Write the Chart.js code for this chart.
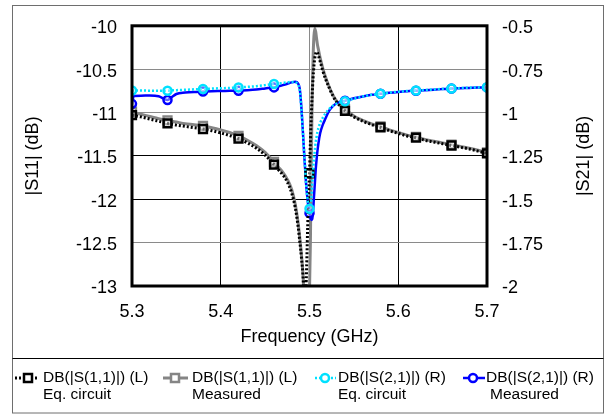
<!DOCTYPE html>
<html>
<head>
<meta charset="utf-8">
<script src="https://cdn.jsdelivr.net/npm/chart.js@4.4.1/dist/chart.umd.min.js"></script>
<style>
  body { margin: 0; background: #fff; }
  #chart { position: absolute; left: 0; top: 0; }
</style>
</head>
<body>
<canvas id="chart" width="608" height="415"></canvas>
<script>
// frequency points (GHz), shared by all four traces
const freq = [
  5.300, 5.302, 5.310, 5.320, 5.330, 5.340, 5.345, 5.350, 5.360, 5.370,
  5.380, 5.390, 5.400, 5.410, 5.420, 5.430, 5.440, 5.450, 5.460, 5.465,
  5.470, 5.475, 5.480, 5.484, 5.487, 5.489, 5.491, 5.493, 5.494, 5.495,
  5.496, 5.497, 5.498, 5.499, 5.500, 5.501, 5.502, 5.503, 5.504, 5.505,
  5.506, 5.507, 5.508, 5.509, 5.510, 5.512, 5.515, 5.518, 5.522, 5.526,
  5.530, 5.535, 5.540, 5.550, 5.560, 5.570, 5.580, 5.590, 5.600, 5.610,
  5.620, 5.630, 5.640, 5.650, 5.660, 5.670, 5.680, 5.690, 5.700
];

// |S11| dB, equivalent circuit
const s11Eq = [
  -11.03, -11.035, -11.05, -11.075, -11.10, -11.125, -11.135, -11.145, -11.16, -11.175,
  -11.19, -11.21, -11.235, -11.265, -11.30, -11.35, -11.41, -11.49, -11.60, -11.66,
  -11.72, -11.80, -11.93, -12.10, -12.30, -12.48, -12.68, -12.95, -13.3, -13.8,
  -13.1, -12.7, -12.3, -11.98, -11.70, -11.35, -11.05, -10.80, -10.60, -10.46,
  -10.37, -10.32, -10.30, -10.31, -10.34, -10.41, -10.52, -10.61, -10.71, -10.80,
  -10.87, -10.93, -10.98, -11.05, -11.10, -11.14, -11.17, -11.21, -11.24, -11.27,
  -11.29, -11.32, -11.34, -11.36, -11.38, -11.40, -11.42, -11.445, -11.47
];

// |S11| dB, measured
const s11Meas = [
  -10.99, -11.0, -11.02, -11.045, -11.07, -11.09, -11.10, -11.11, -11.13, -11.14,
  -11.155, -11.175, -11.20, -11.23, -11.27, -11.32, -11.38, -11.46, -11.57, -11.63,
  -11.69, -11.77, -11.89, -12.06, -12.26, -12.44, -12.65, -12.93, -13.2, -13.6,
  -14.2, -14.6, -14.6, -14.0, -13.05, -12.5, -11.6, -10.85, -10.38, -10.12,
  -10.03, -10.07, -10.15, -10.22, -10.27, -10.37, -10.49, -10.59, -10.70, -10.79,
  -10.86, -10.92, -10.96, -11.04, -11.09, -11.13, -11.16, -11.20, -11.23, -11.26,
  -11.28, -11.31, -11.33, -11.35, -11.37, -11.39, -11.41, -11.435, -11.46
];

// |S21| dB, equivalent circuit
const s21Eq = [
  -0.873, -0.873, -0.873, -0.874, -0.875, -0.874, -0.872, -0.871, -0.869, -0.866,
  -0.864, -0.862, -0.860, -0.858, -0.855, -0.852, -0.848, -0.842, -0.835, -0.832,
  -0.829, -0.826, -0.824, -0.826, -0.840, -0.870, -0.99, -1.15, -1.23, -1.31,
  -1.40, -1.46, -1.51, -1.54, -1.555, -1.55, -1.50, -1.42, -1.34, -1.27,
  -1.22, -1.17, -1.14, -1.11, -1.09, -1.06, -1.03, -1.005, -0.98, -0.962,
  -0.95, -0.94, -0.935, -0.92, -0.908, -0.898, -0.891, -0.885, -0.880, -0.876,
  -0.873, -0.870, -0.867, -0.864, -0.861, -0.859, -0.857, -0.855, -0.854
];

// |S21| dB, measured
const s21Meas = [
  -0.95, -0.905, -0.903, -0.902, -0.906, -0.928, -0.910, -0.893, -0.885, -0.881,
  -0.879, -0.877, -0.876, -0.875, -0.874, -0.871, -0.867, -0.861, -0.855, -0.849,
  -0.842, -0.834, -0.826, -0.823, -0.832, -0.862, -0.98, -1.15, -1.24, -1.32,
  -1.40, -1.46, -1.51, -1.55, -1.58, -1.605, -1.62, -1.615, -1.57, -1.49,
  -1.41, -1.33, -1.27, -1.22, -1.18, -1.12, -1.07, -1.035, -0.99, -0.965,
  -0.948, -0.937, -0.932, -0.918, -0.907, -0.898, -0.892, -0.886, -0.881, -0.877,
  -0.874, -0.871, -0.868, -0.865, -0.862, -0.860, -0.858, -0.856, -0.855
];

// frequencies that carry a marker
const markerFreqs = [5.30, 5.34, 5.38, 5.42, 5.46, 5.50, 5.54, 5.58, 5.62, 5.66, 5.70];

const xTicks = [5.3, 5.4, 5.5, 5.6, 5.7];
const xTickLabels = ['5.3', '5.4', '5.5', '5.6', '5.7'];
const yLeftTicks = [-13, -12.5, -12, -11.5, -11, -10.5, -10];
const yLeftTickLabels = ['-13', '-12.5', '-12', '-11.5', '-11', '-10.5', '-10'];
const yRightTicks = [-2, -1.75, -1.5, -1.25, -1, -0.75, -0.5];
const yRightTickLabels = ['-2', '-1.75', '-1.5', '-1.25', '-1', '-0.75', '-0.5'];

const legendLine1 = ['DB(|S(1,1)|) (L)', 'DB(|S(1,1)|) (L)', 'DB(|S(2,1)|) (R)', 'DB(|S(2,1)|) (R)'];
const legendLine2 = ['Eq. circuit', 'Measured', 'Eq. circuit', 'Measured'];

const FONT = "'Liberation Sans', Arial, sans-serif";
const CYAN = '#00e1ff';
const BLUE = '#0000ff';
const GRAY = '#858585';

const pts = vals => freq.map((f, i) => ({ x: f, y: vals[i] }));
const markR = r => ctx => markerFreqs.includes(freq[ctx.dataIndex]) ? r : 0;

// gridlines that come out grey (anti-aliased) in the original
const grayGrid = [5.5, -10.5, -11, -12.5];

const frame = {
  id: 'frame',
  beforeDraw(chart) {
    const c = chart.ctx;
    c.save();
    c.fillStyle = '#fff';
    c.fillRect(0, 0, chart.width, chart.height);
    c.strokeStyle = '#6e6e6e';
    c.lineWidth = 1;
    c.strokeRect(12.5, 5.5, 591, 407.5);
    c.strokeStyle = '#000';
    c.beginPath();
    c.moveTo(12.5, 358.5);
    c.lineTo(603.5, 358.5);
    c.stroke();
    c.restore();
  },
  afterDatasetsDraw(chart) {
    const c = chart.ctx, a = chart.chartArea;
    c.save();
    c.strokeStyle = '#000';
    c.lineWidth = 3;
    c.strokeRect(a.left, a.top, a.right - a.left, a.bottom - a.top);
    c.restore();
  },
  afterDraw(chart) {
    const c = chart.ctx, a = chart.chartArea;
    const midY = (a.top + a.bottom) / 2;
    c.save();
    c.fillStyle = '#000';
    c.font = '18px ' + FONT;
    c.textAlign = 'center';
    c.textBaseline = 'middle';
    c.save();
    c.translate(33, midY);
    c.rotate(-Math.PI / 2);
    c.fillText('|S11| (dB)', 0, 0);
    c.restore();
    c.save();
    c.translate(584, midY);
    c.rotate(-Math.PI / 2);
    c.fillText('|S21| (dB)', 0, 0);
    c.restore();

    // legend
    const ds = chart.data.datasets;
    const order = [1, 3, 0, 2];
    const lineX = [[15, 38], [163, 188], [315, 336], [463, 485]];
    const markX = [28, 175, 325, 473];
    const textX = [43, 192, 338, 486];
    const text2X = [43, 192, 338, 490];
    const y1 = 378, y2 = 395;
    c.font = '15.5px ' + FONT;
    c.textAlign = 'left';
    for (let k = 0; k < 4; k++) {
      const d = ds[order[k]];
      c.strokeStyle = d.borderColor;
      c.lineWidth = d.borderWidth;
      c.setLineDash(d.borderDash || []);
      c.beginPath();
      c.moveTo(lineX[k][0], y1);
      c.lineTo(lineX[k][1], y1);
      c.stroke();
      c.setLineDash([]);
      c.lineWidth = 2.5;
      c.fillStyle = '#fff';
      c.beginPath();
      if (d.pointStyle === 'rect') {
        c.rect(markX[k] - 4, y1 - 4, 8, 8);
      } else {
        c.arc(markX[k], y1, 4, 0, Math.PI * 2);
      }
      c.fill();
      c.stroke();
      c.fillStyle = '#000';
      c.fillText(legendLine1[k], textX[k], y1);
      c.fillText(legendLine2[k], text2X[k], y2);
    }
    c.restore();
  }
};

const tickFont = { family: FONT, size: 18 };

new Chart(document.getElementById('chart'), {
  type: 'line',
  data: {
    datasets: [
      {
        label: 'DB(|S(2,1)|) (R) Eq. circuit', data: pts(s21Eq), yAxisID: 'yR',
        borderColor: CYAN, borderWidth: 2.5, borderDash: [2, 2],
        pointStyle: 'circle', pointRadius: markR(4), pointBorderWidth: 2.5,
        pointBorderColor: CYAN, pointBackgroundColor: 'rgba(255,255,255,0.4)'
      },
      {
        label: 'DB(|S(1,1)|) (L) Eq. circuit', data: pts(s11Eq), yAxisID: 'yL',
        borderColor: '#000', borderWidth: 3, borderDash: [2, 2],
        pointStyle: 'rect', pointRadius: markR(5.5), pointBorderWidth: 2.5,
        pointBorderColor: '#000', pointBackgroundColor: 'rgba(255,255,255,0.4)'
      },
      {
        label: 'DB(|S(2,1)|) (R) Measured', data: pts(s21Meas), yAxisID: 'yR',
        borderColor: BLUE, borderWidth: 2.5,
        pointStyle: 'circle', pointRadius: markR(4), pointBorderWidth: 2.5,
        pointBorderColor: BLUE, pointBackgroundColor: 'rgba(255,255,255,0.4)'
      },
      {
        label: 'DB(|S(1,1)|) (L) Measured', data: pts(s11Meas), yAxisID: 'yL',
        borderColor: GRAY, borderWidth: 3,
        pointStyle: 'rect', pointRadius: markR(5.5), pointBorderWidth: 2.5,
        pointBorderColor: GRAY, pointBackgroundColor: 'rgba(255,255,255,0.4)'
      }
    ]
  },
  options: {
    responsive: false,
    animation: false,
    devicePixelRatio: 1,
    cubicInterpolationMode: 'monotone',
    layout: { padding: { top: 23, left: 0, right: 0, bottom: 0 } },
    plugins: { legend: { display: false }, tooltip: { enabled: false } },
    scales: {
      x: {
        type: 'linear', min: 5.3, max: 5.7,
        afterBuildTicks: s => { s.ticks = xTicks.map(v => ({ value: v })); },
        afterFit: s => { s.height = 129; },
        border: { display: false },
        grid: {
          drawTicks: false, tickLength: 0, lineWidth: 1,
          color: ctx => grayGrid.includes(ctx.tick && ctx.tick.value) ? '#8a8a8a' : '#000'
        },
        ticks: { padding: 15, color: '#000', font: tickFont, maxRotation: 0, callback: (v, i) => xTickLabels[i] },
        title: { display: true, text: 'Frequency (GHz)', color: '#000', font: tickFont, padding: { top: 0, bottom: 67 } }
      },
      yL: {
        type: 'linear', position: 'left', min: -13, max: -10,
        afterBuildTicks: s => { s.ticks = yLeftTicks.map(v => ({ value: v })); },
        afterFit: s => { s.width = 132; },
        border: { display: false },
        grid: {
          drawTicks: false, tickLength: 0, lineWidth: 1,
          color: ctx => grayGrid.includes(ctx.tick && ctx.tick.value) ? '#8a8a8a' : '#000'
        },
        ticks: { padding: 15, labelOffset: 2.5, color: '#000', font: tickFont, callback: (v, i) => yLeftTickLabels[i] }
      },
      yR: {
        type: 'linear', position: 'right', min: -2, max: -0.5,
        afterBuildTicks: s => { s.ticks = yRightTicks.map(v => ({ value: v })); },
        afterFit: s => { s.width = 121; },
        border: { display: false },
        grid: { display: false, drawTicks: false, tickLength: 0 },
        ticks: { padding: 15, labelOffset: 2.5, color: '#000', font: tickFont, callback: (v, i) => yRightTickLabels[i] }
      }
    }
  },
  plugins: [frame]
});
</script>
</body>
</html>
